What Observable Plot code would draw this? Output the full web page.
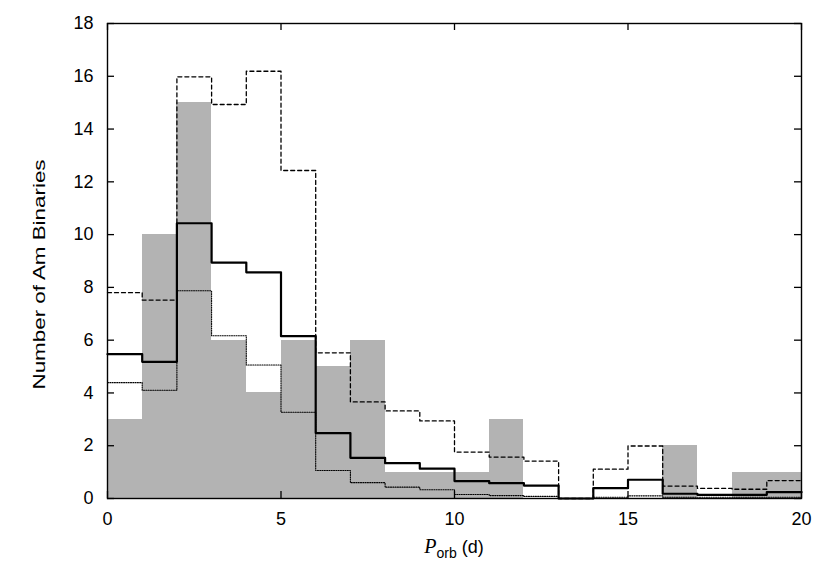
<!DOCTYPE html>
<html>
<head>
<meta charset="utf-8">
<script src="https://cdn.jsdelivr.net/npm/d3@7"></script>
<script src="https://cdn.jsdelivr.net/npm/@observablehq/plot@0.6"></script>
<style>
  body { margin: 0; background: #fff; }
  #chart svg { display: block; }
</style>
</head>
<body>
<div id="chart"></div>
<script>
// Bin starts (days), bin width 1 day
const binStart = [0,1,2,3,4,5,6,7,8,9,10,11,12,13,14,15,16,17,18,19];
const binEnd = 20;
// Observed histogram (grey bars)
const observed = [3,10,15,6,4,6,5,6,1,1,1,3,0,0,0,0,2,0,1,1];
// Model histograms (step lines)
const solidModel  = [5.47,5.18,10.43,8.94,8.57,6.15,2.48,1.54,1.34,1.13,0.66,0.58,0.49,0,0.39,0.71,0.18,0.14,0.14,0.24];
const dashedModel = [7.8,7.52,15.98,14.93,16.19,12.43,5.52,3.66,3.32,2.94,1.76,1.57,1.42,0,1.11,1.99,0.47,0.38,0.35,0.68];
const dottedModel = [4.39,4.1,7.87,6.17,5.06,3.27,1.06,0.6,0.43,0.33,0.15,0.11,0.08,0,0.05,0.1,0.05,0.05,0.05,0.05];
// Ticks
const xTicks = [0,5,10,15,20];
const yTicks = [0,2,4,6,8,10,12,14,16,18];
const yLabel = "Number of Am Binaries";

const W = 830, H = 581, mL = 107, mR = 29, mT = 23, mB = 83;
const pw = W - mL - mR, ph = H - mT - mB;
const tickLen = 7;

const barRows = binStart.map((x, i) => ({x1: x, x2: x + 1, y: observed[i]}));
const stepRows = arr => binStart.map((x, i) => ({x, y: arr[i]})).concat([{x: binEnd, y: arr[arr.length - 1]}]);

const chart = Plot.plot({
  width: W, height: H,
  marginLeft: mL, marginRight: mR, marginTop: mT, marginBottom: mB,
  style: {fontFamily: "'Liberation Sans', Arial, sans-serif", fontSize: "18px", color: "#000", background: "#fff"},
  x: {domain: [0, 20]},
  y: {domain: [0, 18]},
  marks: [
    Plot.rectY(barRows, {x1: "x1", x2: "x2", y: "y", fill: "#b3b3b3", shapeRendering: "crispEdges"}),
    Plot.line(stepRows(dottedModel), {x: "x", y: "y", curve: "step-after", stroke: "#000", strokeWidth: 1.1, strokeDasharray: "1,1.3"}),
    Plot.line(stepRows(dashedModel), {x: "x", y: "y", curve: "step-after", stroke: "#000", strokeWidth: 1.3, strokeDasharray: "4,3"}),
    Plot.line(stepRows(solidModel), {x: "x", y: "y", curve: "step-after", stroke: "#000", strokeWidth: 2.2}),
    // inward mirrored ticks
    Plot.tickY(yTicks, {y: d => d, insetRight: pw - tickLen, stroke: "#000", strokeWidth: 1.3}),
    Plot.tickY(yTicks, {y: d => d, insetLeft: pw - tickLen, stroke: "#000", strokeWidth: 1.3}),
    Plot.tickX(xTicks, {x: d => d, insetTop: ph - tickLen, stroke: "#000", strokeWidth: 1.3}),
    Plot.tickX(xTicks, {x: d => d, insetBottom: ph - tickLen, stroke: "#000", strokeWidth: 1.3}),
    Plot.axisX({ticks: xTicks, tickSize: 0, tickPadding: 14, label: null}),
    Plot.axisY({ticks: yTicks, tickSize: 0, tickPadding: 14, label: null}),
    Plot.frame({stroke: "#000", strokeWidth: 1.4})
  ]
});

const svg = d3.select(chart);
// y-axis label
svg.append("text")
  .attr("transform", `translate(45,${mT + ph / 2 + 14}) rotate(-90)`)
  .attr("text-anchor", "middle")
  .attr("font-size", 17)
  .attr("textLength", 230)
  .attr("lengthAdjust", "spacingAndGlyphs")
  .attr("fill", "#000")
  .text(yLabel);
// x-axis label: P_orb (d)
const xl = svg.append("text")
  .attr("x", mL + pw / 2)
  .attr("y", 553)
  .attr("text-anchor", "middle")
  .attr("font-size", 18)
  .attr("fill", "#000");
xl.append("tspan").attr("font-family", "'Liberation Serif', 'Times New Roman', serif").attr("font-style", "italic").attr("font-size", 20).text("P");
xl.append("tspan").attr("font-size", 14).attr("dy", 5).text("orb");
xl.append("tspan").attr("dy", -5).text(" (d)");

document.getElementById("chart").appendChild(chart);
</script>
</body>
</html>
